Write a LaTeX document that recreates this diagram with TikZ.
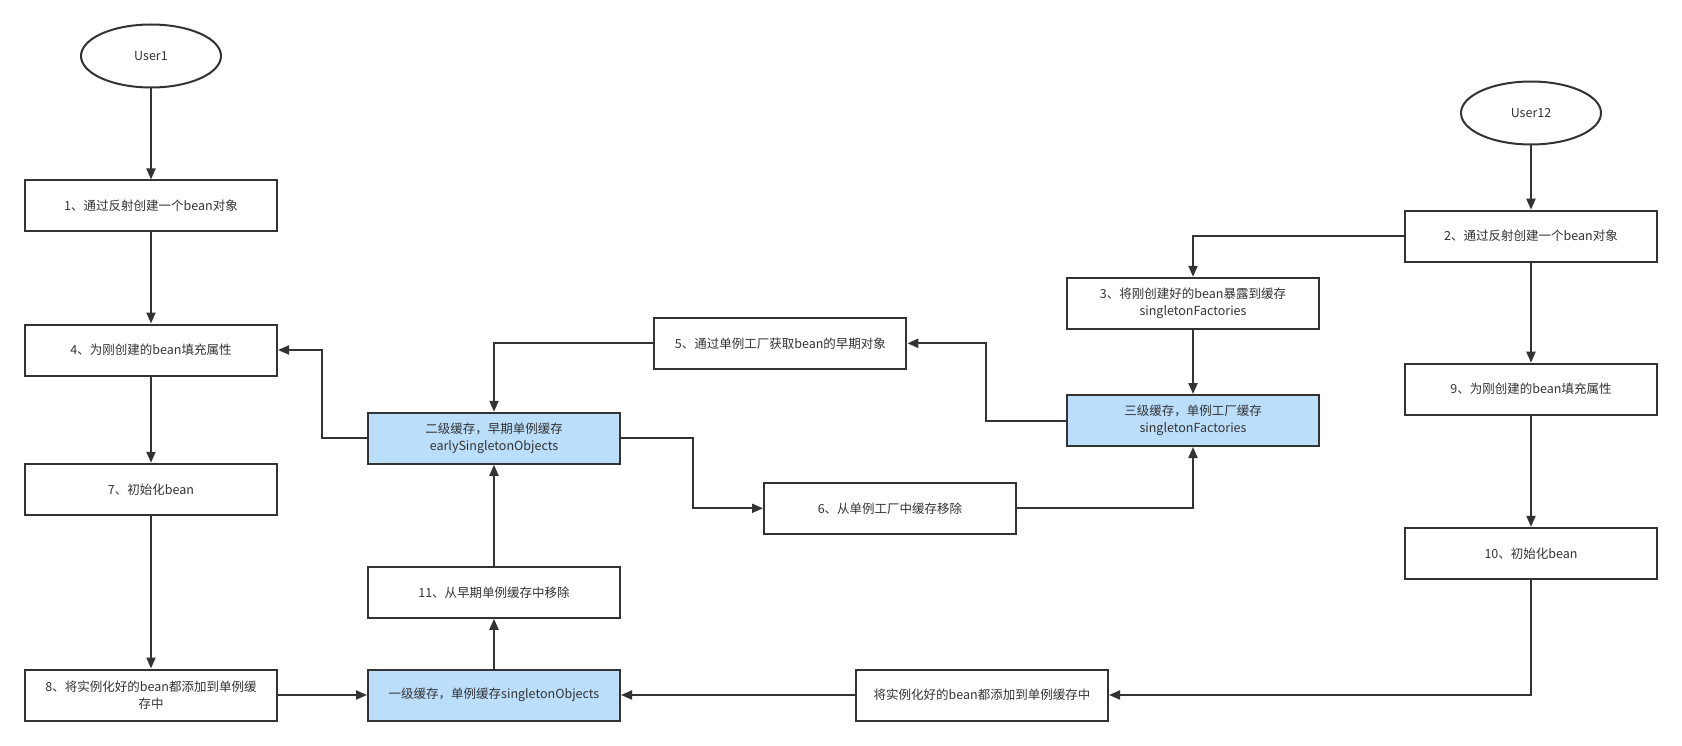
\documentclass[tikz,border=0pt]{standalone}
\usepackage{fontspec}
\setmainfont{Noto Sans CJK SC}
\usetikzlibrary{arrows.meta,shapes.geometric}
\definecolor{ln}{HTML}{333333}
\definecolor{txt}{HTML}{333333}
\definecolor{bluefill}{HTML}{BBDEFB}
\begin{document}
\begin{tikzpicture}[x=1pt,y=-1pt,
  box/.style={draw=ln, line width=2pt, fill=white, minimum width=252pt, minimum height=51pt,
    inner sep=0pt, align=center, text=txt, font=\fontsize{12.5}{16.5}\selectfont},
  cache/.style={box, fill=bluefill},
  user/.style={ellipse, draw=ln, line width=2pt, minimum width=140pt, minimum height=63pt,
    inner sep=0pt, text=txt, font=\fontsize{12.5}{16.5}\selectfont},
  conn/.style={draw=ln, line width=2pt, -{Triangle[length=11pt,width=9pt]}}]
\useasboundingbox (0,0) rectangle (1682,746);
% left column
\node[user] (u1) at (151,56) {User1};
\node[box] (b1) at (151,206) {1、通过反射创建一个bean对象};
\node[box] (b4) at (151,350) {4、为刚创建的bean填充属性};
\node[box] (b7) at (151,489.3) {7、初始化bean};
\node[box] (b8) at (151,695) {8、将实例化好的bean都添加到单例缓\\存中};
% middle-left column
\node[cache] (c2) at (494,438.3) {二级缓存，早期单例缓存\\earlySingletonObjects};
\node[box] (b11) at (494,592.3) {11、从早期单例缓存中移除};
\node[cache] (c1) at (494,695) {一级缓存，单例缓存singletonObjects};
% middle
\node[box] (b5) at (780.4,343.3) {5、通过单例工厂获取bean的早期对象};
\node[box] (b6) at (890,508.3) {6、从单例工厂中缓存移除};
\node[box] (bA) at (982,695) {将实例化好的bean都添加到单例缓存中};
\node[box] (b3) at (1193,303.3) {3、将刚创建好的bean暴露到缓存\\singletonFactories};
\node[cache] (c3) at (1193,420.5) {三级缓存，单例工厂缓存\\singletonFactories};
% right column
\node[user] (u2) at (1531,113) {User12};
\node[box] (b2) at (1531,236.2) {2、通过反射创建一个bean对象};
\node[box] (b9) at (1531,389.2) {9、为刚创建的bean填充属性};
\node[box] (b10) at (1531,553.3) {10、初始化bean};
% connectors
\draw[conn] (u1) -- (b1);
\draw[conn] (b1) -- (b4);
\draw[conn] (b4) -- (b7);
\draw[conn] (b7) -- (b8);
\draw[conn] (b8) -- (c1);
\draw[conn] (c1) -- (b11);
\draw[conn] (b11) -- (c2);
\draw[conn] (c2.west) -- ++(-45,0) |- (b4.east);
\draw[conn] (b5.west) -| (c2.north);
\draw[conn] (c2.east) -- ++(72,0) |- (b6.west);
\draw[conn] (b6.east) -| (c3.south);
\draw[conn] (c3.west) -- ++(-80,0) |- (b5.east);
\draw[conn] (b3) -- (c3);
\draw[conn] (b2.west) -| (b3.north);
\draw[conn] (u2) -- (b2);
\draw[conn] (b2) -- (b9);
\draw[conn] (b9) -- (b10);
\draw[conn] (b10.south) |- (bA.east);
\draw[conn] (bA) -- (c1);
\end{tikzpicture}
\end{document}
